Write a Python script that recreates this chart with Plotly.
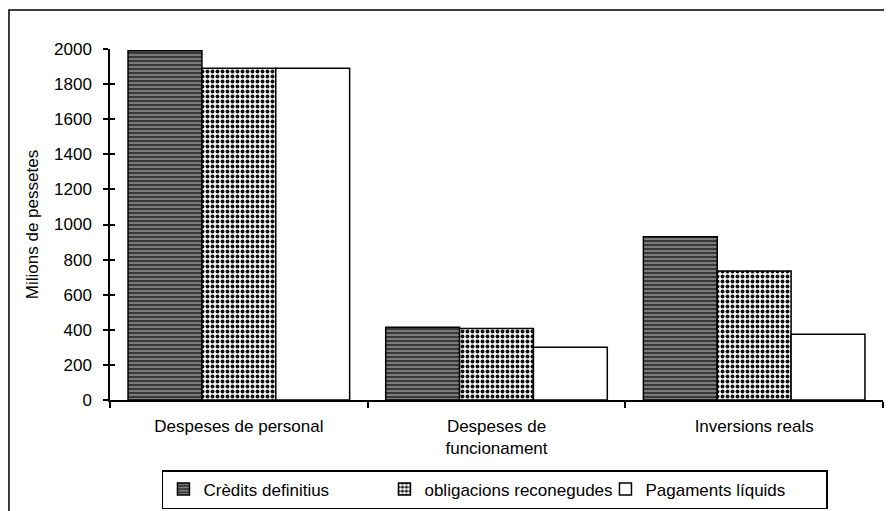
import plotly.graph_objects as go

categories = ["Despeses de personal", "Despeses de<br>funcionament", "Inversions reals"]
credits_definitius = [1990, 415, 930]
obligacions_reconegudes = [1890, 408, 735]
pagaments_liquids = [1890, 300, 375]
y_ticks = [0, 200, 400, 600, 800, 1000, 1200, 1400, 1600, 1800, 2000]

FONT = "Liberation Sans, Arial, sans-serif"

fig = go.Figure()
fig.add_trace(go.Bar(
    name="Crèdits definitius", x=categories, y=credits_definitius,
    marker=dict(color="#3c3c3c", line=dict(color="black", width=1.5),
                pattern=dict(shape="-", fgcolor="#a8a8a8", bgcolor="#383838",
                             size=4, solidity=0.3, fillmode="replace")),
))
fig.add_trace(go.Bar(
    name="obligacions reconegudes", x=categories, y=obligacions_reconegudes,
    marker=dict(color="white", line=dict(color="black", width=1.5),
                pattern=dict(shape=".", fgcolor="#111111", bgcolor="white",
                             size=5, solidity=0.5, fillmode="replace")),
))
fig.add_trace(go.Bar(
    name="Pagaments líquids", x=categories, y=pagaments_liquids,
    marker=dict(color="white", line=dict(color="black", width=1.5)),
))
# invisible helper so the inner tick axis is drawn
fig.add_trace(go.Scatter(
    x=categories, y=credits_definitius, yaxis="y2", mode="markers",
    marker=dict(opacity=0), showlegend=False, hoverinfo="skip",
))

fig.update_layout(
    width=892, height=511,
    margin=dict(l=102, r=17, t=41, b=119, autoexpand=False),
    paper_bgcolor="white", plot_bgcolor="white",
    font=dict(family=FONT, size=17, color="black"),
    barmode="group", bargap=0.14, bargroupgap=0,
    showlegend=True,
    legend=dict(orientation="h", xref="container", yref="container",
                x=0.1726, xanchor="left", y=0.0958, yanchor="top",
                bordercolor="black", borderwidth=1.5, bgcolor="white",
                entrywidth=176, entrywidthmode="pixels",
                font=dict(family=FONT, size=17), traceorder="normal"),
    xaxis=dict(showline=True, linecolor="black", linewidth=1.5,
               ticks="outside", ticklen=6, tickwidth=1.5, tickcolor="black",
               tickson="boundaries", showgrid=False, zeroline=False, automargin=False,
               ticklabelstandoff=10, tickfont=dict(family=FONT, size=17)),
    yaxis=dict(range=[0, 2000], tickvals=y_ticks, showline=True, linecolor="black",
               linewidth=1.5, ticks="outside", ticklen=5, tickwidth=1.5, tickcolor="black",
               showgrid=False, zeroline=False, automargin=False, ticklabelstandoff=8,
               tickfont=dict(family=FONT, size=17),
               title=dict(text="Milions de pessetes",
                          font=dict(family=FONT, size=17),
                          standoff=11)),
    yaxis2=dict(overlaying="y", range=[0, 2000], tickvals=y_ticks,
                ticks="inside", ticklen=5, tickwidth=1.5, tickcolor="black",
                showticklabels=False, showgrid=False, zeroline=False, showline=False,
                side="left", automargin=False),
    shapes=[dict(type="rect", xref="paper", yref="paper",
                 x0=-0.1307, x1=1.05, y0=-0.35, y1=1.111,
                 line=dict(color="black", width=1.5), fillcolor="rgba(0,0,0,0)", layer="below")],
)

fig.write_html("out.html")
